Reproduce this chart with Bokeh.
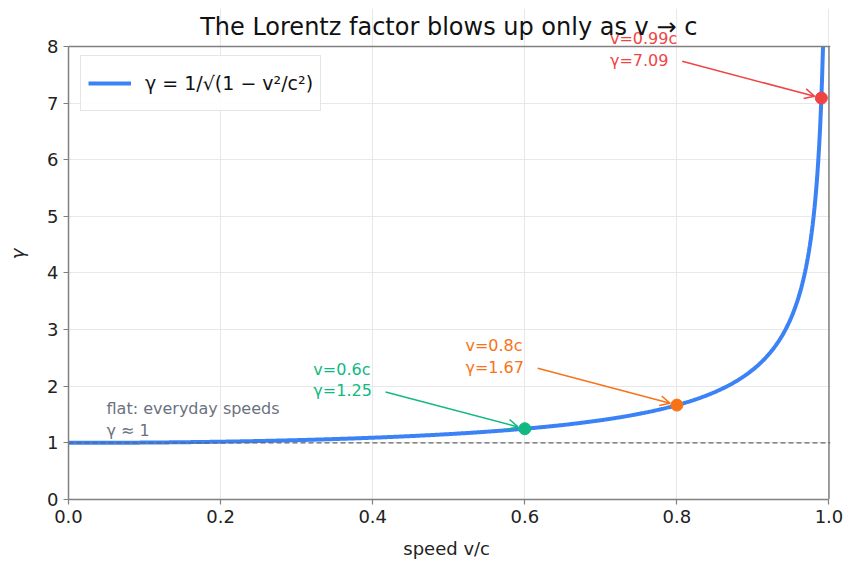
import numpy as np
from bokeh.plotting import figure
from bokeh.models import (ColumnDataSource, Label, Arrow, OpenHead, Span,
                          FixedTicker, PrintfTickFormatter, Legend, LegendItem)
from bokeh.embed import file_html
from bokeh.resources import INLINE

# speeds as a fraction of c along the curve (up to gamma = 8), gamma from the legend's formula
v_curve = np.linspace(0.0, 0.99216, 800)
gamma_curve = 1.0 / np.sqrt(1.0 - v_curve ** 2)

# highlighted speeds
v_marks = [0.6, 0.8, 0.99]
v_names = ["v=0.6c", "v=0.8c", "v=0.99c"]
mark_colors = ["#10b981", "#f97316", "#ef4444"]
gamma_marks = [1.0 / np.sqrt(1.0 - v * v) for v in v_marks]

x_ticks = [0.0, 0.2, 0.4, 0.6, 0.8, 1.0]
y_ticks = [0, 1, 2, 3, 4, 5, 6, 7, 8]
Y_MAX = 8

FONT = "DejaVu Sans"
BLUE = "#3b82f6"
GREY_TEXT = "#6b7280"
FRAME = "#808080"

# the plotting area runs a little above gamma = 8 so the title and the
# top annotation can sit there; the visible box is drawn at gamma = 8
p = figure(width=859, height=579, output_backend="svg", toolbar_location=None,
           x_range=(0, 1.002), y_range=(0, 8.671),
           min_border_left=68, min_border_right=29,
           min_border_top=8, min_border_bottom=80)

p.outline_line_color = None
p.background_fill_color = "white"
p.border_fill_color = "white"

for ax in (p.xaxis, p.yaxis):
    ax.axis_line_color = FRAME
    ax.axis_line_width = 1.5
    ax.major_tick_line_color = FRAME
    ax.major_tick_line_width = 1.2
    ax.major_tick_out = 5
    ax.major_tick_in = 0
    ax.minor_tick_line_color = None
    ax.major_label_text_font = FONT
    ax.major_label_text_font_size = "18px"
    ax.major_label_text_color = "#222222"
    ax.axis_label_text_font = FONT
    ax.axis_label_text_font_size = "18px"
    ax.axis_label_text_color = "#222222"

p.xaxis.ticker = FixedTicker(ticks=x_ticks)
p.xaxis.formatter = PrintfTickFormatter(format="%.1f")
p.xaxis.bounds = (0, 1)
p.yaxis.ticker = FixedTicker(ticks=y_ticks)
p.yaxis.bounds = (0, Y_MAX)
p.xaxis.axis_label = "speed  v/c"
p.xaxis.axis_label_standoff = 12
p.xaxis.axis_label_text_font_style = "normal"
p.yaxis.axis_label = "\u03b3"
p.yaxis.axis_label_standoff = 16
p.yaxis.axis_label_text_font_style = "italic"

p.xgrid.grid_line_color = "#e8e8e8"
p.ygrid.grid_line_color = "#e8e8e8"
p.xgrid.bounds = (0, Y_MAX)

# top and right sides of the box
p.add_layout(Span(location=Y_MAX, dimension="width", line_color=FRAME, line_width=1.5))
p.line([1, 1], [0, Y_MAX], line_color=FRAME, line_width=1.5)

# gamma = 1 reference
p.add_layout(Span(location=1, dimension="width", line_color="#666666",
                  line_dash="5 3", line_width=1.3))

curve = p.line(v_curve, gamma_curve, line_color=BLUE, line_width=4)

marks = ColumnDataSource(dict(v=v_marks, g=gamma_marks, c=mark_colors))
p.scatter("v", "g", source=marks, size=12, color="c", line_color="c")

# screen scale used to stop arrows at the markers
px_x = 760.0 / 1.002
px_y = 453.0 / 8.0

for v, g, name, col in zip(v_marks, gamma_marks, v_names, mark_colors):
    tx, ty = v - 0.278, g + 0.86
    p.add_layout(Label(x=tx, y=ty + 0.19, text=name, text_color=col,
                       text_font=FONT, text_font_size="16px",
                       text_align="left", text_baseline="middle"))
    p.add_layout(Label(x=tx, y=ty - 0.19, text=f"\u03b3={g:.2f}", text_color=col,
                       text_font=FONT, text_font_size="16px",
                       text_align="left", text_baseline="middle"))
    xs, ys = v - 0.183, g + 0.65
    dxp, dyp = (v - xs) * px_x, (g - ys) * px_y
    L = (dxp ** 2 + dyp ** 2) ** 0.5
    xe = v - 7.0 * dxp / L / px_x
    ye = g - 7.0 * dyp / L / px_y
    p.add_layout(Arrow(x_start=xs, y_start=ys, x_end=xe, y_end=ye,
                       line_color=col, line_width=1.5,
                       end=OpenHead(size=10, line_color=col, line_width=1.5)))

p.add_layout(Label(x=0.05, y=1.61, text="flat: everyday speeds", text_color=GREY_TEXT,
                   text_font=FONT, text_font_size="16px",
                   text_align="left", text_baseline="middle"))
p.add_layout(Label(x=0.05, y=1.22, text="\u03b3 \u2248 1", text_color=GREY_TEXT,
                   text_font=FONT, text_font_size="16px",
                   text_align="left", text_baseline="middle"))

# title
p.add_layout(Label(x=0.5, y=8.336, text="The Lorentz factor blows up only as v \u2192 c",
                   text_color="#111111", text_font=FONT, text_font_size="24px",
                   text_align="center", text_baseline="middle"))

legend = Legend(items=[LegendItem(label="\u03b3 = 1/\u221a(1 \u2212 v\u00b2/c\u00b2)",
                                  renderers=[curve])],
                location=(12, 388), margin=0, padding=7, spacing=0,
                glyph_width=43, glyph_height=40, label_height=40,
                label_standoff=14,
                label_text_font=FONT, label_text_font_size="19px",
                label_text_color="#111111",
                border_line_color="#cccccc", border_line_width=1.2,
                background_fill_color="white", background_fill_alpha=0.9)
p.add_layout(legend)

open("out.html", "w").write(file_html(p, INLINE))
